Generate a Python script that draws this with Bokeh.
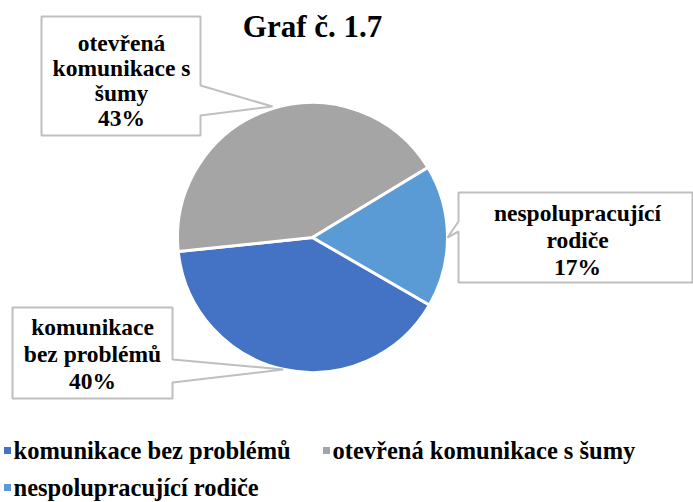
from bokeh.plotting import figure
from bokeh.models import Range1d
from bokeh.core.properties import value
from bokeh.embed import file_html
from bokeh.resources import INLINE
import math

# ---- data ----
categories = ["komunikace bez problémů", "otevřená komunikace s šumy", "nespolupracující rodiče"]
percents = [40, 43, 17]
colors = ["#4472C4", "#A5A5A5", "#5B9BD5"]
label_lines = [["komunikace", "bez problémů"],
               ["otevřená", "komunikace s", "šumy"],
               ["nespolupracující", "rodiče"]]
title_text = "Graf č. 1.7"

W, H = 693, 502
FONT = value("Liberation Serif")

def X(xi):  # image px -> data
    return xi

def Y(yi):
    return H - yi

p = figure(width=W, height=H, output_backend="svg", toolbar_location=None,
           x_range=Range1d(0, W), y_range=Range1d(0, H), min_border=0)
p.axis.visible = False
p.grid.visible = False
p.outline_line_color = None
p.background_fill_color = "white"

# ---- pie ----
cx, cy, r = X(312), Y(237), 135
start = math.radians(-30)
total = sum(percents)
cum = 0.0
for pct, col in zip(percents, colors):
    a0 = start - cum / total * 2 * math.pi
    cum += pct
    a1 = start - cum / total * 2 * math.pi
    p.wedge(x=cx, y=cy, radius=r, start_angle=a1, end_angle=a0,
            fill_color=col, line_color="white", line_width=3)

# ---- callouts ----
callouts = [
    # blue
    dict(poly=[(12, 307), (172, 307), (172, 359), (283, 369), (172, 382), (172, 398), (12, 398)],
         cx=92, y0=326, dy=27),
    # gray
    dict(poly=[(41, 16), (200, 16), (200, 85), (272, 106), (200, 115), (200, 135), (41, 135)],
         cx=121, y0=42, dy=25),
    # light blue
    dict(poly=[(458, 192), (692, 192), (692, 282), (458, 282), (458, 231), (447, 237), (458, 221)],
         cx=577, y0=212, dy=27),
]
for i, c in enumerate(callouts):
    xs = [X(a) for a, b in c["poly"]]
    ys = [Y(b) for a, b in c["poly"]]
    p.patch(xs, ys, fill_color="white", line_color="#BFBFBF", line_width=2)
    lines = label_lines[i] + [f"{percents[i]}%"]
    for j, t in enumerate(lines):
        p.text(x=[X(c["cx"])], y=[Y(c["y0"] + j * c["dy"])], text=[t],
               text_font=FONT, text_font_style="bold", text_font_size="23.5px",
               text_align="center", text_baseline="middle", text_color="black")

# ---- title ----
p.text(x=[X(312)], y=[Y(26)], text=[title_text], text_font=FONT,
       text_font_style="bold", text_font_size="31px", text_align="center",
       text_baseline="middle", text_color="black")

# ---- legend ----
leg_pos = [(7, 450), (326, 450), (7, 487)]
for (lx, ly), cat, col in zip(leg_pos, categories, colors):
    p.rect(x=[X(lx)], y=[Y(ly)], width=7, height=7, fill_color=col, line_color=None)
    p.text(x=[X(lx + 6)], y=[Y(ly)], text=[cat], text_font=FONT,
           text_font_style="bold", text_font_size="24.5px", text_align="left",
           text_baseline="middle", text_color="black")

open("out.html", "w").write(file_html(p, INLINE))
